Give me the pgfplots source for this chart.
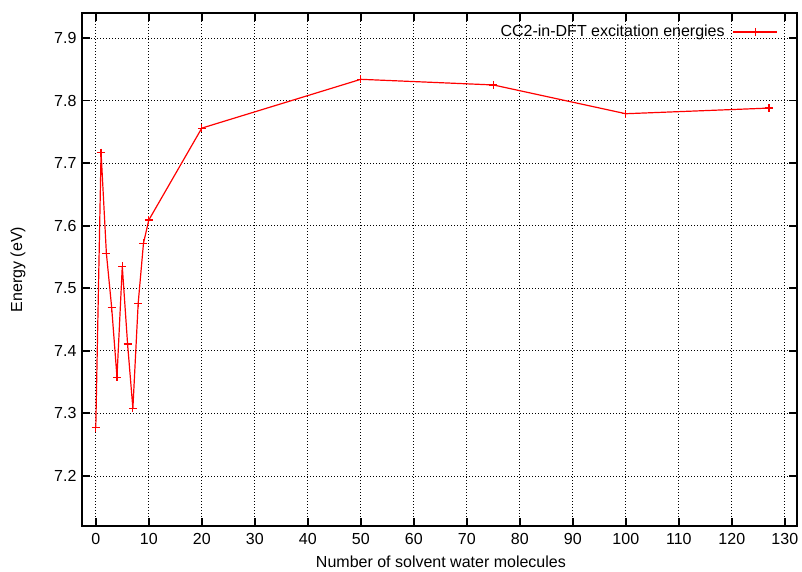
\documentclass[border=0pt]{standalone}
\usepackage{pgfplots}
\pgfplotsset{compat=1.18}
\usepackage{fontspec}
\setmainfont{Liberation Sans}
\definecolor{gpred}{RGB}{255,0,0}
\pgfplotsset{longlegend/.style={legend image code/.code={%
  \draw[mark repeat=2, mark phase=2, ##1, draw=gpred, line width=1.4pt] plot coordinates {(0pt,0pt) (22pt,0pt) (44pt,0pt)};}}}
\begin{document}
\fontsize{16}{18}\selectfont
\begin{tikzpicture}
\begin{axis}[
  scale only axis,
  width=715pt, height=513pt,
  xmin=-2.6, xmax=132.3,
  ymin=7.12, ymax=7.94,
  xtick={0,10,...,130},
  ytick={7.2,7.3,...,7.9},
  /pgf/number format/assume math mode=true,
  yticklabel style={/pgf/number format/fixed, /pgf/number format/precision=1, /pgf/number format/fixed zerofill, anchor=east, xshift=0pt},
  yticklabel pos=left,
  xticklabel style={yshift=-2pt},
  tick label style={font=\fontsize{16}{18}\selectfont},
  label style={font=\fontsize{16}{18}\selectfont},
  axis line style={line width=1.8pt},
  tick style={line width=1.8pt, black},
  major tick length=8pt,
  tick align=inside,
  grid=major,
  major grid style={dash pattern=on 1pt off 2pt, black, line width=0.7pt},
  xlabel={Number of solvent water molecules},
  ylabel={Energy (eV)},
  xlabel style={at={(axis description cs:0.502,-0.07)}, anchor=center},
  ylabel style={at={(axis description cs:-0.0895,0.5)}, anchor=center},
  legend plot pos=right,
  legend cell align=right,
  legend style={draw=none, fill=none, font=\fontsize{16}{18}\selectfont, at={(0.978,0.985)}, anchor=north east,
    /tikz/every odd column/.append style={column sep=6pt}},
]
\addplot[longlegend, color=gpred, line width=1.2pt, mark=+, mark size=4pt, mark options={line width=1.2pt, solid, gpred}] coordinates {
(0,7.277) (1,7.717) (2,7.556) (3,7.469) (4,7.358) (5,7.535) (6,7.411) (7,7.308) (8,7.476) (9,7.572) (10,7.609)
(20,7.756) (50,7.834) (75,7.825) (100,7.779) (127,7.788)
};
\addlegendentry{CC2-in-DFT excitation energies}
\end{axis}
\pgfresetboundingbox
\path (current axis.south west) ++(-82pt,-46pt) rectangle ++(802pt,572pt);
\end{tikzpicture}
\end{document}
